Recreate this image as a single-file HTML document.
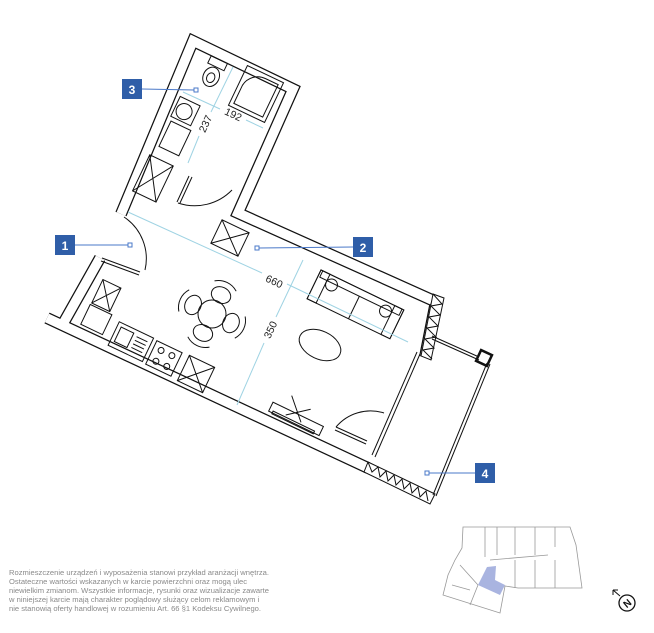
<!DOCTYPE html>
<html><head><meta charset="utf-8"><style>
html,body{margin:0;padding:0;background:#fff;width:654px;height:633px;overflow:hidden}
.t{position:absolute;left:9px;top:569px;font:7.6px/8.9px "Liberation Sans",sans-serif;color:#8a8a8a;white-space:nowrap}
</style></head><body>
<svg width="654" height="633" style="position:absolute;left:0;top:0" xmlns="http://www.w3.org/2000/svg">
<g fill="none" stroke-linejoin="miter">
<g stroke="#111" stroke-width="12">
<polyline points="121,214 193,41 293,89 238,213 432,300"/>
<polyline points="100,258 64,322"/>
<polyline points="47,318 368,468"/>
<polyline points="437,296 425,357"/>
</g>
<g stroke="#fff" stroke-width="9.5">
<polyline points="121,214 193,41 293,89 238,213 432,300"/>
<polyline points="100,258 64,322"/>
<polyline points="47,318 368,468"/>
<polyline points="437,296 425,357"/>
</g>
<g stroke="#111" stroke-width="1">
<polygon points="368,462 435,494 430,504 364,472" fill="#fff"/>
<polyline points="368,462 372,472 378,467 380,477 386,471 388,481 394,475 396,485 402,479 404,489 410,483 412,493 418,487 420,497 426,491 428,501"/>
<polygon points="433,294 444,298 431,360 421,356" fill="#fff"/>
<polyline points="433,294 442,304 431,306 440,315 429,317 438,326 427,328 436,337 425,339 434,348 423,350 432,359"/>
<line x1="432" y1="336" x2="479" y2="357"/><line x1="432" y1="339" x2="479" y2="360"/>
<rect x="478" y="352" width="12" height="12" stroke-width="2.5" transform="rotate(25 484 358)"/>
<line x1="490" y1="364" x2="436" y2="496"/><line x1="487" y1="363" x2="433" y2="495"/>
<line x1="417" y1="352" x2="372" y2="455"/><line x1="420" y1="354" x2="375" y2="457"/>
<path d="M336,427 A45,45 0 0 1 384,413" /><line x1="336" y1="427" x2="367" y2="441"/><line x1="335" y1="430" x2="366" y2="444"/>
<line x1="102" y1="258" x2="140" y2="272"/><line x1="101" y1="261" x2="139" y2="275"/>
<path d="M124,217 A50,50 0 0 1 145,270"/>
<line x1="180" y1="203" x2="192" y2="177"/><line x1="177" y1="202" x2="189" y2="176"/>
<path d="M178,203 A52,52 0 0 0 232,190"/>
<g transform="rotate(25.5 212 75)"><rect x="203" y="58" width="18" height="8"/><ellipse cx="212" cy="77" rx="8" ry="10"/><ellipse cx="212" cy="78" rx="4" ry="5"/></g>
<g transform="rotate(25.5 256 94)"><rect x="236" y="72" width="40" height="44"/><path d="M240,112 L240,92 A18,18 0 0 1 258,76 L272,76 L272,112 Z"/></g>
<g transform="rotate(25.5 185 112)"><rect x="174" y="100" width="22" height="22"/><circle cx="184" cy="112" r="8"/></g>
<g transform="rotate(25.5 174 138)"><rect x="164" y="124" width="22" height="28"/></g>
<g transform="rotate(25.5 152 178)"><rect x="140" y="158" width="26" height="40"/><path d="M140,158 L166,198 M166,158 L140,198"/></g>
<g transform="rotate(25.5 230 238)"><rect x="215" y="225" width="30" height="26"/><path d="M215,225 L245,251 M245,225 L215,251"/></g>
<g transform="rotate(25.5 105 296)"><rect x="96" y="282" width="20" height="26"/><path d="M96,282 L116,308 M116,282 L96,308"/></g>
<g transform="rotate(25.5 95 320)"><rect x="84" y="308" width="24" height="22"/></g>
<g transform="rotate(25.5 125 340)"><rect x="112" y="326" width="38" height="26"/><rect x="116" y="330" width="14" height="16"/><path d="M134,332 h12 M134,336 h12 M134,340 h12 M134,344 h12"/></g>
<g transform="rotate(25.5 163 358)"><rect x="150" y="345" width="28" height="26"/><circle cx="158" cy="352" r="3"/><circle cx="170" cy="352" r="3"/><circle cx="158" cy="364" r="3"/><circle cx="170" cy="364" r="3"/></g>
<g transform="rotate(25.5 196 374)"><rect x="182" y="360" width="28" height="28"/><path d="M182,360 L210,388 M210,360 L182,388"/></g>
<circle cx="212" cy="314" r="14"/>
<g transform="rotate(25.5 212 314)">
<ellipse cx="212" cy="293" rx="10" ry="8"/><ellipse cx="212" cy="335" rx="10" ry="8"/><ellipse cx="191" cy="314" rx="8" ry="10"/><ellipse cx="233" cy="314" rx="8" ry="10"/>
<path d="M200,283 A20,20 0 0 1 224,283 M200,345 A20,20 0 0 0 224,345 M181,302 A20,20 0 0 0 181,326 M243,302 A20,20 0 0 1 243,326"/></g>
<g transform="rotate(25.8 355 303)">
<rect x="310" y="288" width="92" height="32"/><rect x="312" y="288" width="88" height="7"/><line x1="356" y1="295" x2="356" y2="320"/>
<rect x="310" y="288" width="10" height="32"/><rect x="392" y="288" width="10" height="32"/>
<circle cx="326" cy="297" r="6"/><circle cx="386" cy="297" r="6"/></g>
<ellipse cx="320" cy="345" rx="22" ry="14" transform="rotate(25 320 345)"/>
<g transform="rotate(25.8 292 418)"><rect x="268" y="412" width="56" height="10"/><rect x="272" y="420" width="46" height="3"/><path d="M282,398 L302,418 M305,402 L285,418"/></g>
</g>
<g stroke="#9fd3e3" stroke-width="1">
<line x1="128" y1="212" x2="262" y2="273"/><line x1="287" y1="284" x2="408" y2="342"/>
<line x1="303" y1="260" x2="276" y2="317"/><line x1="264" y1="343" x2="237" y2="405"/>
<line x1="233" y1="67" x2="211" y2="112"/><line x1="199" y1="136" x2="188" y2="163"/>
<line x1="183" y1="92" x2="220" y2="109"/><line x1="246" y1="120" x2="263" y2="128"/>
</g>
<g font-family="Liberation Sans,sans-serif" font-size="10.5" fill="#222" text-anchor="middle">
<text x="274" y="285" transform="rotate(25 274 282)">660</text>
<text x="271" y="333" transform="rotate(-65 271 330)">350</text>
<text x="206" y="127" transform="rotate(-65 206 124)">237</text>
<text x="233" y="118" transform="rotate(25 233 115)">192</text>
</g>
<g stroke="#4a78c8" stroke-width="1" fill="#fff">
<line x1="142" y1="89" x2="194" y2="90"/><rect x="194" y="88" width="4" height="4"/>
<line x1="75" y1="245" x2="128" y2="245"/><rect x="128" y="243" width="4" height="4"/>
<line x1="259" y1="248" x2="353" y2="247"/><rect x="255" y="246" width="4" height="4"/>
<line x1="429" y1="473" x2="475" y2="473"/><rect x="425" y="471" width="4" height="4"/>
</g>
<g fill="#2f5ea8"><rect x="122" y="79" width="20" height="20"/><rect x="55" y="235" width="20" height="20"/><rect x="353" y="237" width="20" height="20"/><rect x="475" y="463" width="20" height="20"/></g>
<g font-family="Liberation Sans,sans-serif" font-size="12" font-weight="bold" fill="#fff" text-anchor="middle">
<text x="132" y="94">3</text><text x="65" y="250">1</text><text x="363" y="252">2</text><text x="485" y="478">4</text></g>
<polygon points="487,567 496,566 495,580 505,585 500,595 478,585" fill="#a9b4e0"/>
<g stroke="#999" stroke-width="0.8" fill="none">
<polygon points="463,527 570,527 576,545 582,588 518,588 505,586 500,613 443,595 448,575 455,560 462,548"/>
<path d="M485,527 v30 M497,527 v28 M515,527 v28 M535,527 v28 M555,527 v20 M490,560 L548,555 M515,560 v28 M535,560 v28 M555,560 v28 M460,565 L478,585 M452,585 L470,590 M478,585 L470,605"/>
</g>
<circle cx="627" cy="603" r="8" fill="none" stroke="#111" stroke-width="1.3"/>
<text x="627" y="607" fill="#111" font-family="Liberation Sans,sans-serif" font-size="10" font-weight="bold" text-anchor="middle" transform="rotate(-40 627 603)">N</text>
<path d="M620,596 L613,590 M613,590 l5,0 M613,590 l0,5" stroke="#111" stroke-width="1" fill="none"/>
</svg>
<div class="t">Rozmieszczenie urządzeń i wyposażenia stanowi przykład aranżacji wnętrza.<br>Ostateczne wartości wskazanych w karcie powierzchni oraz mogą ulec<br>niewielkim zmianom. Wszystkie informacje, rysunki oraz wizualizacje zawarte<br>w niniejszej karcie mają charakter poglądowy służący celom reklamowym i<br>nie stanowią oferty handlowej w rozumieniu Art. 66 §1 Kodeksu Cywilnego.</div>
</body></html>
